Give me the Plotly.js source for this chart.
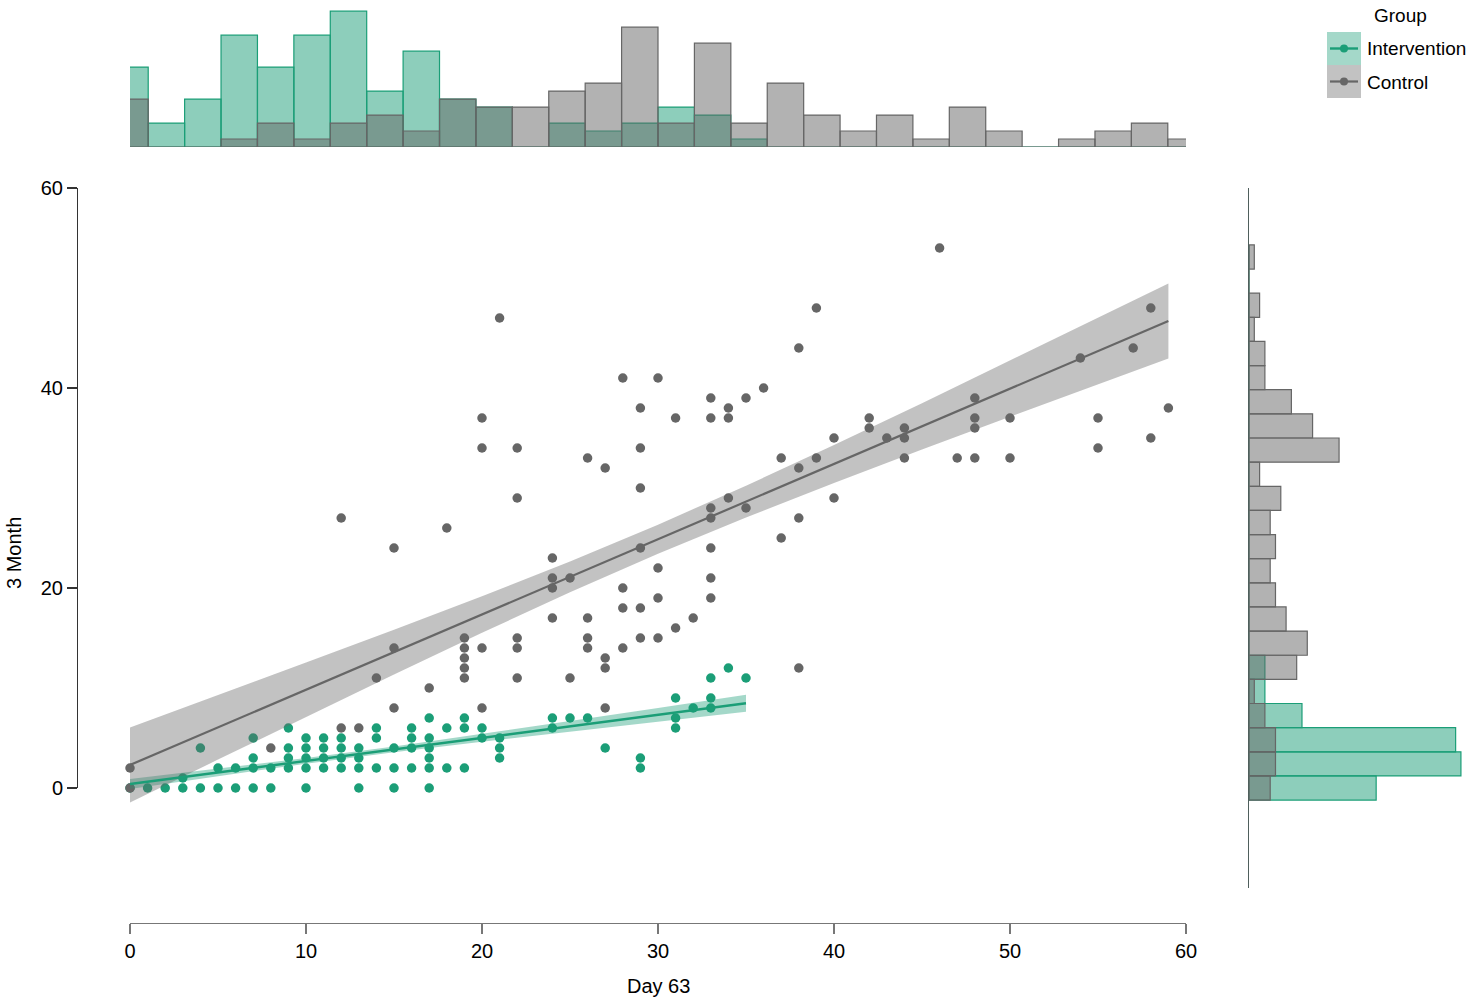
<!DOCTYPE html>
<html>
<head>
<meta charset="utf-8">
<script src="https://cdn.plot.ly/plotly-3.0.1.min.js"></script>
<style>
  html, body { margin: 0; padding: 0; background: #fff; }
  #chart { width: 1471px; height: 1003px; }
</style>
</head>
<body>
<div id="chart"></div>
<script>
// scatter points (Day 63 vs 3 Month), one entry per visible dot
var interventionX = [0,1,2,3,4,5,6,7,8,10,13,15,17, 3,
  5,6,7,8,9,10,11,12,13,14,15,16,17,18,19,29,
  7,9,10,11,12,13,17,21,29,
  4,9,10,11,12,13,15,16,17,21,27,
  7,10,11,12,14,16,17,20,21,
  9,14,16,18,19,20,24,31,
  17,19,24,25,26,31,
  32,33, 31,33, 33,35, 34];
var interventionY = [0,0,0,0,0,0,0,0,0,0,0,0,0, 1,
  2,2,2,2,2,2,2,2,2,2,2,2,2,2,2,2,
  3,3,3,3,3,3,3,3,3,
  4,4,4,4,4,4,4,4,4,4,4,
  5,5,5,5,5,5,5,5,5,
  6,6,6,6,6,6,6,6,
  7,7,7,7,7,7,
  8,8, 9,9, 11,11, 12];

var controlX = [46,21,39,58,38,57,54,28,30,36,33,35,48,29,34,59,20,31,33,34,42,48,50,55,
  42,44,48,40,43,44,58,20,22,29,55,26,37,39,44,47,48,50,27,38,29,22,34,40,33,35,
  12,33,38,18,37,15,29,33,24,30,24,25,33,24,28,30,33,28,29,24,26,32,31,
  19,22,26,29,30,15,19,20,22,26,28,19,27,19,27,38,14,19,22,25,17,15,20,27,12,13,8,0,0];
var controlY = [54,47,48,48,44,44,43,41,41,40,39,39,39,38,38,38,37,37,37,37,37,37,37,37,
  36,36,36,35,35,35,35,34,34,34,34,33,33,33,33,33,33,33,32,32,30,29,29,29,28,28,
  27,27,27,26,25,24,24,24,23,22,21,21,21,20,20,19,19,18,18,17,17,17,16,
  15,15,15,15,15,14,14,14,14,14,14,13,13,12,12,12,11,11,11,11,10,8,8,8,6,6,4,2,0];

// fitted lines and confidence bands, read at a few x positions
var controlFitX = [0,5,10,15,20,25,30,35,40,45,50,55,59];
var controlFit  = [2.3,6.06,9.83,13.59,17.35,21.11,24.88,28.64,32.4,36.16,39.93,43.69,46.7];
var controlLow  = [-1.45,2.84,7.12,11.36,15.52,19.57,23.43,27.05,30.5,33.84,37.12,40.37,42.95];
var controlHigh = [6.05,9.28,12.54,15.82,19.18,22.65,26.33,30.23,34.3,38.48,42.74,47.01,50.45];

var interventionFitX = [0,5,10,15,20,25,30,35];
var interventionFit  = [0.4,1.55,2.71,3.86,5.01,6.17,7.32,8.47];
var interventionLow  = [-0.1,1.18,2.43,3.57,4.62,5.64,6.63,7.62];
var interventionHigh = [0.9,1.92,2.99,4.15,5.4,6.7,8.01,9.32];

// marginal histogram counts (30 bins over each axis)
var topIntervention = [10,3,6,14,10,14,17,7,12,6,5,0,3,2,3,5,4,1,0,0,0,0,0,0,0,0,0,0,0,0];
var topControl      = [6,0,0,1,3,1,3,4,2,6,5,5,7,8,15,3,13,3,8,4,2,4,1,5,2,0,1,2,3,1];
var sideIntervention = [24,40,39,10,3,3,0,0,0,0,0,0,0,0,0,0,0,0,0,0,0,0,0];
var sideControl      = [4,5,5,3,1,9,11,7,5,4,5,4,6,2,17,12,8,3,3,1,2,0,1];

var topBinWidth = 60 / 29;
var sideBinWidth = 70 / 29;
var topCenters = topIntervention.map(function (v, i) { return i * topBinWidth; });
var sideCenters = sideControl.map(function (v, i) { return i * sideBinWidth; });

var GREEN = '#1b9e77', GRAY = '#666666';
var FONT = 'Liberation Sans, Arial, sans-serif';
var W = 1471, H = 1003;
function px(x) { return x / W; }
function py(y) { return 1 - y / H; }

function band(xs, lo, hi) {
  return { x: xs.concat(xs.slice().reverse()), y: hi.concat(lo.slice().reverse()) };
}
var gBand = band(interventionFitX, interventionLow, interventionHigh);
var cBand = band(controlFitX, controlLow, controlHigh);

var data = [
  { type: 'scatter', mode: 'markers', x: interventionX, y: interventionY, cliponaxis: false,
    marker: { color: GREEN, size: 9.5 }, hoverinfo: 'skip' },
  { type: 'scatter', mode: 'markers', x: controlX, y: controlY, cliponaxis: false,
    marker: { color: GRAY, size: 9.5 }, hoverinfo: 'skip' },
  { type: 'scatter', mode: 'lines', x: gBand.x, y: gBand.y, fill: 'toself',
    fillcolor: 'rgba(27,158,119,0.4)', line: { width: 0 }, hoverinfo: 'skip' },
  { type: 'scatter', mode: 'lines', x: cBand.x, y: cBand.y, fill: 'toself',
    fillcolor: 'rgba(102,102,102,0.4)', line: { width: 0 }, hoverinfo: 'skip' },
  { type: 'scatter', mode: 'lines', x: interventionFitX, y: interventionFit,
    line: { color: GREEN, width: 2.4 }, hoverinfo: 'skip' },
  { type: 'scatter', mode: 'lines', x: controlFitX, y: controlFit,
    line: { color: GRAY, width: 2.2 }, hoverinfo: 'skip' },

  { type: 'bar', x: topCenters, y: topIntervention, width: topBinWidth, xaxis: 'x2', yaxis: 'y2',
    marker: { color: 'rgba(27,158,119,0.5)', line: { color: GREEN, width: 1.2 } }, hoverinfo: 'skip' },
  { type: 'bar', x: topCenters, y: topControl, width: topBinWidth, xaxis: 'x2', yaxis: 'y2',
    marker: { color: 'rgba(102,102,102,0.5)', line: { color: GRAY, width: 1.2 } }, hoverinfo: 'skip' },
  { type: 'bar', orientation: 'h', y: sideCenters, x: sideIntervention, width: sideBinWidth, xaxis: 'x3', yaxis: 'y3',
    marker: { color: 'rgba(27,158,119,0.5)', line: { color: GREEN, width: 1.2 } }, hoverinfo: 'skip' },
  { type: 'bar', orientation: 'h', y: sideCenters, x: sideControl, width: sideBinWidth, xaxis: 'x3', yaxis: 'y3',
    marker: { color: 'rgba(102,102,102,0.5)', line: { color: GRAY, width: 1.2 } }, hoverinfo: 'skip' },

  // carries the capped left axis (0 to 60)
  { type: 'scatter', mode: 'markers', x: [], y: [], xaxis: 'x', yaxis: 'y4', hoverinfo: 'skip' }
];

var tickFont = { family: FONT, size: 20, color: '#000' };
var hidden = { visible: false, showgrid: false, zeroline: false, fixedrange: true };

var layout = {
  width: W, height: H,
  margin: { l: 0, r: 0, t: 0, b: 0 },
  paper_bgcolor: '#fff', plot_bgcolor: 'rgba(0,0,0,0)',
  showlegend: false, hovermode: false, barmode: 'overlay',
  font: { family: FONT, color: '#000' },
  xaxis: {
    domain: [px(130), px(1186)], range: [0, 60], anchor: 'free', position: py(923),
    showline: true, linecolor: '#777', linewidth: 1.2, ticks: 'outside', ticklen: 10,
    tickcolor: '#777', tickwidth: 1.2, dtick: 10, tick0: 0, tickfont: tickFont,
    showgrid: false, zeroline: false
  },
  yaxis: Object.assign({ domain: [py(888), py(188)], range: [-10, 60] }, hidden),
  yaxis4: {
    domain: [py(788), py(188)], range: [0, 60], anchor: 'free', position: px(77),
    showline: true, linecolor: '#333', linewidth: 1.2, ticks: 'outside', ticklen: 10,
    tickcolor: '#333', tickwidth: 1.2, tickvals: [0, 20, 40, 60], tickfont: tickFont,
    showgrid: false, zeroline: false
  },
  xaxis2: Object.assign({ domain: [px(130), px(1186)], range: [0, 60], anchor: 'y2' }, hidden),
  yaxis2: Object.assign({ domain: [py(147), 1], range: [0, 18.4], anchor: 'x2' }, hidden),
  xaxis3: Object.assign({ domain: [px(1249), 1], range: [0, 41.9], anchor: 'y3' }, hidden),
  yaxis3: {
    domain: [py(888), py(188)], range: [-10, 60], anchor: 'x3',
    showline: true, linecolor: '#4f5f5c', linewidth: 1.2, ticks: '', showticklabels: false,
    showgrid: false, zeroline: false
  },
  shapes: [
    { type: 'rect', xref: 'paper', yref: 'paper', x0: px(1327), x1: px(1361), y0: py(32), y1: py(65),
      fillcolor: 'rgba(27,158,119,0.4)', line: { width: 0 } },
    { type: 'rect', xref: 'paper', yref: 'paper', x0: px(1327), x1: px(1361), y0: py(65), y1: py(98),
      fillcolor: 'rgba(102,102,102,0.4)', line: { width: 0 } },
    { type: 'line', xref: 'paper', yref: 'paper', x0: px(1330), x1: px(1358), y0: py(48.5), y1: py(48.5),
      line: { color: GREEN, width: 2.4 } },
    { type: 'line', xref: 'paper', yref: 'paper', x0: px(1330), x1: px(1358), y0: py(81.5), y1: py(81.5),
      line: { color: GRAY, width: 2.2 } },
    { type: 'circle', xref: 'paper', yref: 'paper', x0: px(1340), x1: px(1348), y0: py(44.5), y1: py(52.5),
      fillcolor: GREEN, line: { width: 0 } },
    { type: 'circle', xref: 'paper', yref: 'paper', x0: px(1340), x1: px(1348), y0: py(77.5), y1: py(85.5),
      fillcolor: GRAY, line: { width: 0 } }
  ],
  annotations: [
    { text: 'Day 63', xref: 'paper', yref: 'paper', x: px(658), y: py(986), showarrow: false,
      xanchor: 'center', yanchor: 'middle', font: { family: FONT, size: 20, color: '#000' } },
    { text: '3 Month', xref: 'paper', yref: 'paper', x: px(14), y: py(553), showarrow: false, textangle: -90,
      xanchor: 'center', yanchor: 'middle', font: { family: FONT, size: 20, color: '#000' } },
    { text: 'Group', xref: 'paper', yref: 'paper', x: px(1400), y: py(16), showarrow: false,
      xanchor: 'center', yanchor: 'middle', font: { family: FONT, size: 19, color: '#000' } },
    { text: 'Intervention', xref: 'paper', yref: 'paper', x: px(1365), y: py(49), showarrow: false,
      xanchor: 'left', yanchor: 'middle', font: { family: FONT, size: 19, color: '#000' } },
    { text: 'Control', xref: 'paper', yref: 'paper', x: px(1365), y: py(82), showarrow: false,
      xanchor: 'left', yanchor: 'middle', font: { family: FONT, size: 19, color: '#000' } }
  ]
};

Plotly.newPlot('chart', data, layout, { displayModeBar: false, staticPlot: true });
</script>
</body>
</html>
